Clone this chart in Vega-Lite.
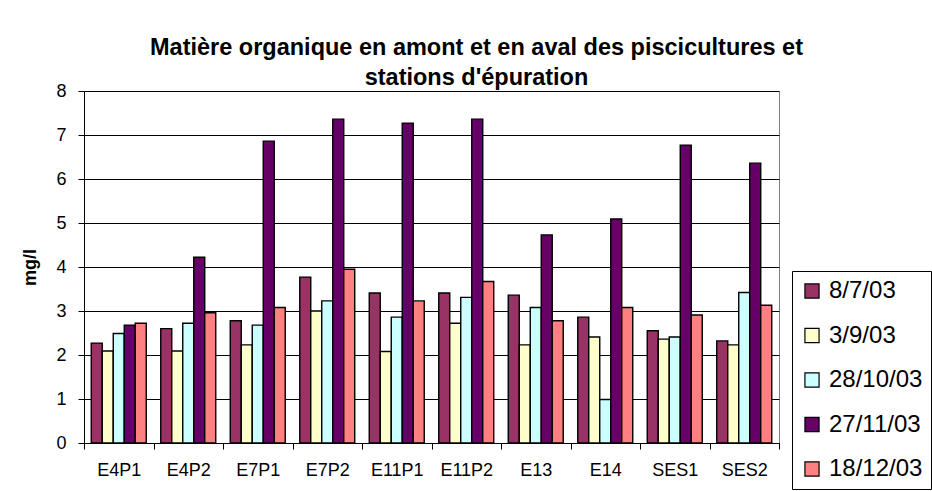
{
  "$schema": "https://vega.github.io/schema/vega-lite/v6.json",
  "autosize": {"type": "none"},
  "width": 695,
  "height": 352,
  "padding": {"left": 84, "top": 91, "right": 153, "bottom": 48},
  "background": "white",
  "title": {
    "text": ["Matière organique en amont et en aval des piscicultures et", "stations d'épuration"],
    "font": "Liberation Sans",
    "fontSize": 23.5,
    "fontWeight": "bold",
    "color": "black",
    "anchor": "middle",
    "lineHeight": 30,
    "dx": 45,
    "dy": 15,
    "offset": 8
  },
  "data": {
    "values": [
      {"site": "E4P1", "date": "8/7/03", "value": 2.27},
      {"site": "E4P1", "date": "3/9/03", "value": 2.09},
      {"site": "E4P1", "date": "28/10/03", "value": 2.49},
      {"site": "E4P1", "date": "27/11/03", "value": 2.68},
      {"site": "E4P1", "date": "18/12/03", "value": 2.72},
      {"site": "E4P2", "date": "8/7/03", "value": 2.6},
      {"site": "E4P2", "date": "3/9/03", "value": 2.09},
      {"site": "E4P2", "date": "28/10/03", "value": 2.72},
      {"site": "E4P2", "date": "27/11/03", "value": 4.22},
      {"site": "E4P2", "date": "18/12/03", "value": 2.96},
      {"site": "E7P1", "date": "8/7/03", "value": 2.78},
      {"site": "E7P1", "date": "3/9/03", "value": 2.23},
      {"site": "E7P1", "date": "28/10/03", "value": 2.68},
      {"site": "E7P1", "date": "27/11/03", "value": 6.86},
      {"site": "E7P1", "date": "18/12/03", "value": 3.08},
      {"site": "E7P2", "date": "8/7/03", "value": 3.77},
      {"site": "E7P2", "date": "3/9/03", "value": 3.0},
      {"site": "E7P2", "date": "28/10/03", "value": 3.23},
      {"site": "E7P2", "date": "27/11/03", "value": 7.36},
      {"site": "E7P2", "date": "18/12/03", "value": 3.95},
      {"site": "E11P1", "date": "8/7/03", "value": 3.41},
      {"site": "E11P1", "date": "3/9/03", "value": 2.08},
      {"site": "E11P1", "date": "28/10/03", "value": 2.86},
      {"site": "E11P1", "date": "27/11/03", "value": 7.27},
      {"site": "E11P1", "date": "18/12/03", "value": 3.23},
      {"site": "E11P2", "date": "8/7/03", "value": 3.41},
      {"site": "E11P2", "date": "3/9/03", "value": 2.72},
      {"site": "E11P2", "date": "28/10/03", "value": 3.31},
      {"site": "E11P2", "date": "27/11/03", "value": 7.36},
      {"site": "E11P2", "date": "18/12/03", "value": 3.67},
      {"site": "E13", "date": "8/7/03", "value": 3.36},
      {"site": "E13", "date": "3/9/03", "value": 2.23},
      {"site": "E13", "date": "28/10/03", "value": 3.08},
      {"site": "E13", "date": "27/11/03", "value": 4.73},
      {"site": "E13", "date": "18/12/03", "value": 2.78},
      {"site": "E14", "date": "8/7/03", "value": 2.86},
      {"site": "E14", "date": "3/9/03", "value": 2.41},
      {"site": "E14", "date": "28/10/03", "value": 0.99},
      {"site": "E14", "date": "27/11/03", "value": 5.09},
      {"site": "E14", "date": "18/12/03", "value": 3.08},
      {"site": "SES1", "date": "8/7/03", "value": 2.55},
      {"site": "SES1", "date": "3/9/03", "value": 2.36},
      {"site": "SES1", "date": "28/10/03", "value": 2.41},
      {"site": "SES1", "date": "27/11/03", "value": 6.77},
      {"site": "SES1", "date": "18/12/03", "value": 2.91},
      {"site": "SES2", "date": "8/7/03", "value": 2.32},
      {"site": "SES2", "date": "3/9/03", "value": 2.23},
      {"site": "SES2", "date": "28/10/03", "value": 3.42},
      {"site": "SES2", "date": "27/11/03", "value": 6.36},
      {"site": "SES2", "date": "18/12/03", "value": 3.13}
    ]
  },
  "mark": {"type": "bar", "stroke": "black", "strokeWidth": 1.4},
  "encoding": {
    "x": {
      "field": "site",
      "type": "nominal",
      "sort": ["E4P1", "E4P2", "E7P1", "E7P2", "E11P1", "E11P2", "E13", "E14", "SES1", "SES2"],
      "scale": {"paddingInner": 0, "paddingOuter": 0},
      "axis": {
        "title": null,
        "labelAngle": 0,
        "labelFont": "Liberation Sans",
        "labelFontSize": 18,
        "labelColor": "black",
        "labelPadding": 12,
        "tickBand": "extent",
        "tickSize": 6,
        "tickColor": "black",
        "domainColor": "black",
        "grid": false
      }
    },
    "xOffset": {
      "field": "date",
      "type": "nominal",
      "sort": ["8/7/03", "3/9/03", "28/10/03", "27/11/03", "18/12/03"],
      "scale": {"paddingInner": 0, "paddingOuter": 0.66}
    },
    "y": {
      "field": "value",
      "type": "quantitative",
      "scale": {"domain": [0, 8], "nice": false},
      "axis": {
        "title": "mg/l",
        "titleFont": "Liberation Sans",
        "titleFontSize": 18,
        "titleFontWeight": "bold",
        "titleColor": "black",
        "titlePadding": 16,
        "values": [0, 1, 2, 3, 4, 5, 6, 7, 8],
        "labelFont": "Liberation Sans",
        "labelFontSize": 18,
        "labelColor": "black",
        "labelPadding": 12,
        "tickSize": 6,
        "tickColor": "black",
        "domainColor": "black",
        "grid": true,
        "gridColor": "black",
        "gridOpacity": 1
      }
    },
    "color": {
      "field": "date",
      "type": "nominal",
      "sort": ["8/7/03", "3/9/03", "28/10/03", "27/11/03", "18/12/03"],
      "scale": {
        "domain": ["8/7/03", "3/9/03", "28/10/03", "27/11/03", "18/12/03"],
        "range": ["#993366", "#FFFFCC", "#CCFFFF", "#660066", "#FF8080"]
      },
      "legend": {
        "title": null,
        "orient": "none",
        "legendX": 708,
        "legendY": 180,
        "strokeColor": "black",
        "padding": 8,
        "symbolType": "square",
        "symbolSize": 200,
        "symbolStrokeColor": "black",
        "symbolStrokeWidth": 1.2,
        "symbolOpacity": 1,
        "labelFont": "Liberation Sans",
        "labelFontSize": 24,
        "labelColor": "black",
        "labelOffset": 5,
        "rowPadding": 20.5,
        "labelLimit": 200
      }
    }
  },
  "config": {
    "view": {"stroke": "#808080", "strokeWidth": 1}
  }
}
